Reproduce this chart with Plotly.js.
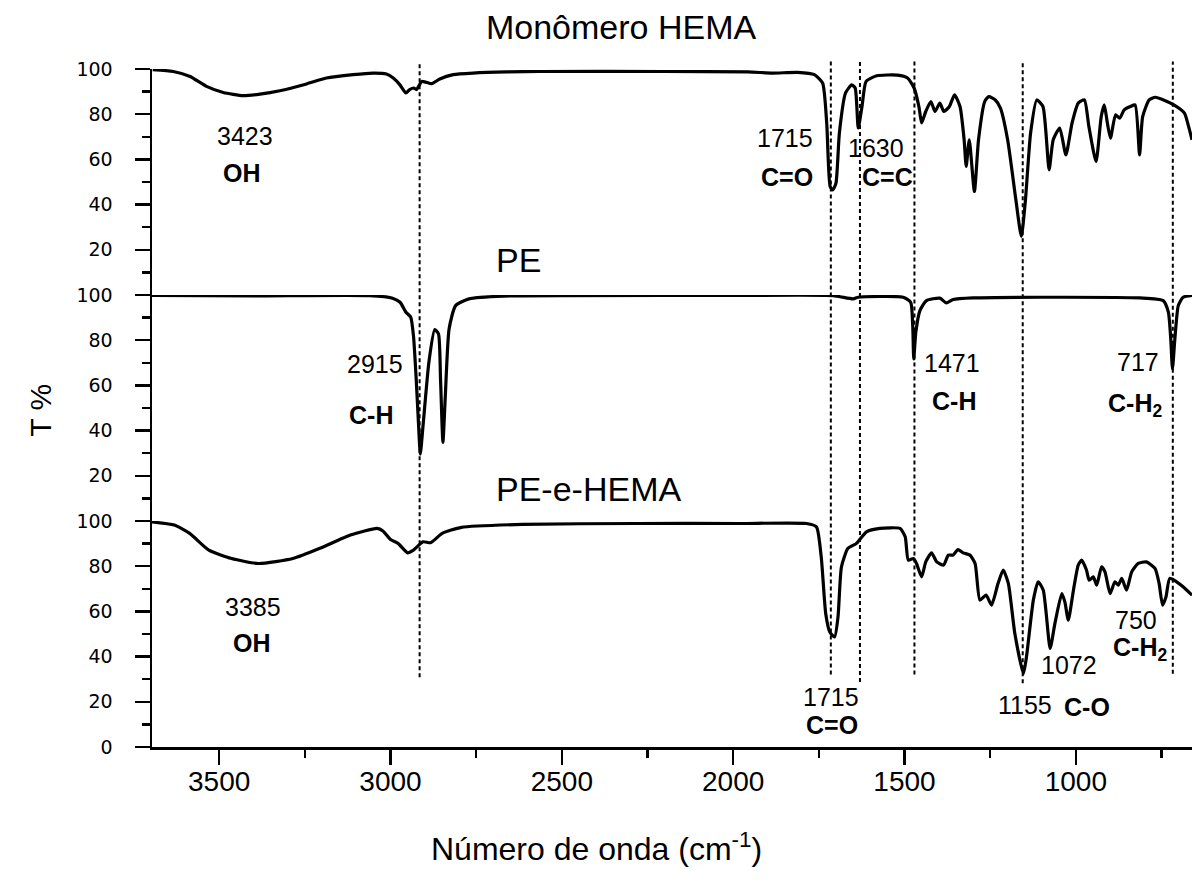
<!DOCTYPE html>
<html><head><meta charset="utf-8">
<script src="https://cdn.plot.ly/plotly-3.0.1.min.js"></script>
<style>html,body{margin:0;padding:0;background:#fff}</style>
</head><body>
<div id="chart" style="width:1192px;height:893px"></div>
<script>
// Monômero HEMA spectrum (wavenumber cm-1, T %)
const hemaX = [3694,3634,3585,3537,3488,3430,3381,3323,3245,3187,3109,3051,3012,2992,2973,2955,2944,2932,2924,2909,2895,2880,2856,2817,2759,2661,2564,2200,1957,1885,1812,1763,1739,1727,1717,1709,1700,1690,1672,1654,1644,1635,1624,1612,1581,1521,1491,1472,1458,1450,1438,1423,1411,1397,1385,1369,1354,1338,1326,1320,1311,1296,1284,1266,1254,1235,1220,1199,1175,1159,1147,1132,1114,1096,1078,1066,1047,1029,1011,993,975,962,941,926,917,908,899,884,872,859,841,827,814,805,786,768,744,714,683,671,661];
const hemaT = [99.7,98.9,96.7,92.3,89.6,88.2,88.9,90.4,93.4,96.0,97.5,98.2,97.8,96.0,93.1,89.4,90.9,91.6,90.9,94.5,94.1,93.5,95.6,97.5,98.2,98.7,98.9,98.9,98.7,98.2,98.5,97.5,93.8,76.1,48.0,46.5,49.5,71.7,89.4,93.0,91.6,73.9,83.4,94.5,97.0,97.3,96.0,91.6,83.4,76.1,81.2,85.6,81.2,84.9,81.2,83.4,88.6,83.4,68.7,56.9,68.7,45.8,68.7,85.6,87.8,86.3,82.7,68.7,42.1,25.9,42.1,71.7,86.3,83.4,55.4,68.7,73.9,62.0,76.1,84.9,86.3,74.6,59.0,78.9,84.1,76.1,69.4,79.7,78.2,81.9,83.4,84.1,62.0,78.9,86.3,87.5,86.3,84.1,80.5,74.6,68.7];

// PE spectrum
const peX = [3698,3396,3061,2994,2972,2955,2941,2933,2925,2918,2913,2905,2888,2871,2860,2854,2847,2840,2829,2810,2771,2670,1980,1708,1650,1635,1504,1482,1476,1473,1467,1455,1436,1397,1378,1358,1300,1105,813,745,730,723,718,711,701,687,661];
const peT = [99.8,99.6,99.7,98.6,96.8,92.4,90.2,82.0,62.8,42.2,29.6,42.2,70.2,84.7,82.8,62.8,34.8,55.4,85.0,95.3,98.3,99.5,99.8,99.7,98.3,99.0,99.0,96.8,86.4,71.7,83.5,93.1,97.5,98.6,96.5,98.0,98.7,99.0,98.7,97.5,92.4,80.6,67.3,80.6,95.3,99.0,99.8];

// PE-e-HEMA spectrum
const pehX = [3698,3631,3586,3530,3464,3385,3285,3206,3117,3039,3022,3000,2978,2950,2933,2905,2883,2849,2793,2615,2280,1980,1786,1757,1743,1730,1718,1704,1694,1684,1665,1640,1611,1572,1513,1498,1489,1474,1465,1450,1438,1421,1406,1386,1372,1358,1344,1329,1309,1294,1280,1262,1246,1227,1212,1197,1178,1153,1144,1124,1110,1095,1075,1061,1041,1032,1022,1007,993,983,969,961,949,939,925,915,900,886,876,866,852,837,818,794,769,757,747,737,726,706,687,661];
const pehT = [99.6,98.2,94.5,87.1,83.4,81.2,83.4,87.9,93.8,96.7,95.6,91.8,90.1,85.9,87.1,90.8,90.4,94.5,97.2,98.5,98.9,98.9,98.9,97.4,84.1,59.1,50.9,48.7,57.6,79.7,87.9,90.1,95.2,96.7,96.7,93.0,82.7,83.4,81.2,75.3,81.9,85.9,81.9,80.5,84.9,84.9,87.4,85.9,84.9,81.2,65.0,67.2,62.8,72.4,78.3,72.4,50.2,32.5,39.9,65.0,73.1,69.4,43.6,54.7,67.9,64.2,56.1,69.4,80.5,82.7,78.3,73.8,75.3,71.6,79.7,77.5,67.9,73.1,71.6,74.6,69.4,77.5,81.2,81.9,79.0,72.4,62.8,66.4,74.6,73.1,70.9,67.2];

// marked bands (cm-1)
const bandLines = [2915, 1715, 1630, 1471, 1155, 717];

// tick labels
const yTicksBottom = [0, 20, 40, 60, 80, 100];
const yTicksUpper = [20, 40, 60, 80, 100];

// band labels: [text, wavenumber, T%, axis, bold]
const bandLabels = [
  ['3423', 3426, 70.3, 'y3', false], ['OH', 3432, 53.9, 'y3', true],
  ['1715', 1848, 69.4, 'y3', false], ['C=O', 1842, 52.4, 'y3', true],
  ['1630', 1582, 65.0, 'y3', false], ['C=C', 1551, 52.4, 'y3', true],
  ['2915', 3046, 69.5, 'y2', false], ['C-H', 3056, 46.9, 'y2', true],
  ['1471', 1360, 69.8, 'y2', false], ['C-H', 1357, 53.2, 'y2', true],
  ['717', 820, 70.2, 'y2', false], ['C-H<sub>2</sub>', 828, 51.5, 'y2', true],
  ['3385', 3401, 62.0, 'y', false], ['OH', 3404, 45.8, 'y', true],
  ['1715', 1715, 22.1, 'y', false], ['C=O', 1712, 9.6, 'y', true],
  ['1155', 1149, 18.5, 'y', false], ['C-O', 966, 17.7, 'y', true],
  ['1072', 1019, 36.2, 'y', false],
  ['750', 823, 56.1, 'y', false], ['C-H<sub>2</sub>', 813, 43.3, 'y', true]
];

const FONT = 'Liberation Sans, Arial, sans-serif';
const lineStyle = {color: '#000', width: 3.2, shape: 'spline', smoothing: 0.55};

const traces = [
  {x: hemaX, y: hemaT, xaxis: 'x', yaxis: 'y3', mode: 'lines', line: lineStyle, hoverinfo: 'skip', name: 'Monômero HEMA'},
  {x: peX, y: peT, xaxis: 'x', yaxis: 'y2', mode: 'lines', line: lineStyle, hoverinfo: 'skip', name: 'PE'},
  {x: pehX, y: pehT, xaxis: 'x', yaxis: 'y', mode: 'lines', line: lineStyle, hoverinfo: 'skip', name: 'PE-e-HEMA'}
];

function yAxis(domain, vals) {
  return {
    domain: domain, range: [0, 100], anchor: 'x',
    showline: true, linecolor: '#000', linewidth: 2.5,
    ticks: 'outside', ticklen: 15, tickwidth: 2.5, tickcolor: '#000',
    tickmode: 'array', tickvals: vals, ticktext: vals.map(String),
    tickfont: {family: 'DejaVu Sans, sans-serif', size: 19, color: '#000'},
    ticklabelstandoff: 18,
    minor: {tickmode: 'linear', tick0: 0, dtick: 10, ticks: 'outside', ticklen: 8, tickwidth: 2.5, tickcolor: '#000', showgrid: false},
    showgrid: false, zeroline: false, fixedrange: true
  };
}

const lineBottoms = [0.103, 0.107, 0.096, 0.107, 0.094, 0.108];
const shapes = bandLines.map((w, i) => ({
  type: 'line', xref: 'x', yref: 'paper', x0: w, x1: w, y0: lineBottoms[i], y1: 1.011,
  line: {color: '#000', width: 2, dash: '4px,3px'}
}));

const annotations = bandLabels.map(b => ({
  text: b[4] ? '<b>' + b[0] + '</b>' : b[0],
  x: b[1], y: b[2], xref: 'x', yref: b[3], showarrow: false,
  xanchor: 'center', yanchor: 'middle',
  font: {family: FONT, size: 25, color: '#000'}
}));
annotations.push(
  {text: 'PE', x: 2698, y: 15.5, xref: 'x', yref: 'y3', xanchor: 'left', yanchor: 'middle', showarrow: false, font: {family: FONT, size: 34, color: '#000'}},
  {text: 'PE-e-HEMA', x: 2698, y: 14.1, xref: 'x', yref: 'y2', xanchor: 'left', yanchor: 'middle', showarrow: false, font: {family: FONT, size: 34, color: '#000'}},
  {text: 'Número de onda (cm<sup>-1</sup>)', x: 0.427, y: -0.148, xref: 'paper', yref: 'paper', xanchor: 'center', yanchor: 'middle', showarrow: false, font: {family: FONT, size: 32, color: '#000'}},
  {text: 'T %', x: -0.108, y: 0.497, xref: 'paper', yref: 'paper', xanchor: 'center', yanchor: 'middle', textangle: -90, showarrow: false, font: {family: FONT, size: 30, color: '#000'}}
);

const layout = {
  width: 1192, height: 893,
  margin: {l: 152, r: 0, t: 69, b: 146, pad: 0},
  paper_bgcolor: '#fff', plot_bgcolor: '#fff',
  showlegend: false,
  title: {text: 'Monômero HEMA', x: 0.451, xref: 'paper', xanchor: 'center', y: 0.970, yref: 'container', yanchor: 'middle', font: {family: FONT, size: 34, color: '#000'}},
  xaxis: {
    range: [3696, 661], anchor: 'y',
    showline: true, linecolor: '#000', linewidth: 2.5,
    ticks: 'outside', ticklen: 15, tickwidth: 2.5, tickcolor: '#000',
    tickmode: 'linear', tick0: 0, dtick: 500,
    tickfont: {family: FONT, size: 28, color: '#000'},
    ticklabelstandoff: -7,
    minor: {tickmode: 'linear', tick0: 0, dtick: 250, ticks: 'outside', ticklen: 8, tickwidth: 2.5, tickcolor: '#000', showgrid: false},
    showgrid: false, zeroline: false, fixedrange: true
  },
  yaxis: yAxis([0, 1/3], yTicksBottom),
  yaxis2: yAxis([1/3, 2/3], yTicksUpper),
  yaxis3: yAxis([2/3, 1], yTicksUpper),
  shapes: shapes,
  annotations: annotations
};

Plotly.newPlot('chart', traces, layout, {displayModeBar: false, staticPlot: true});
</script>
</body></html>
